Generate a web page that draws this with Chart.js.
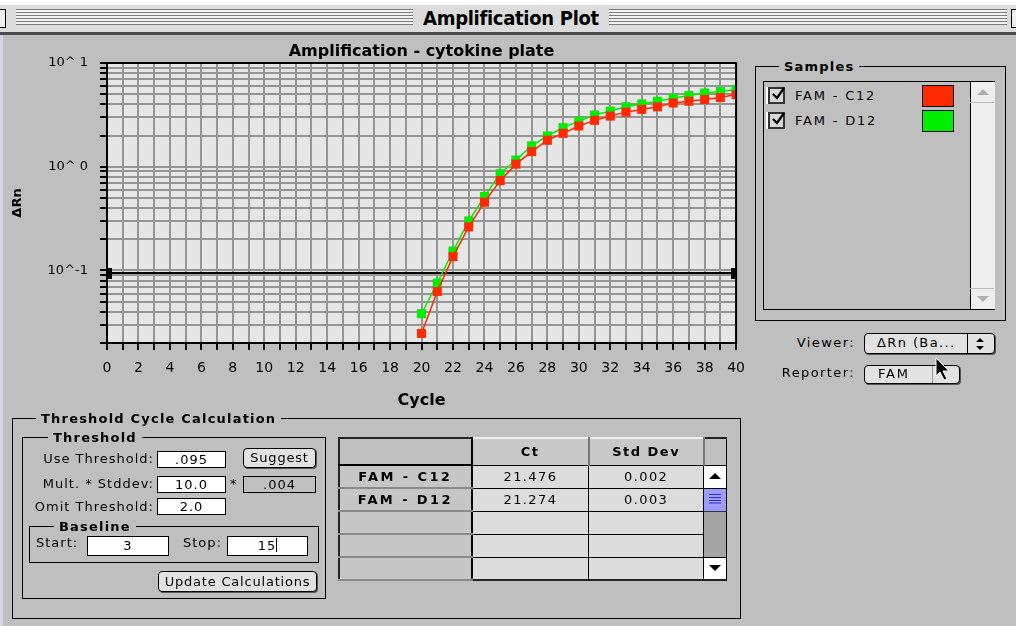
<!DOCTYPE html>
<html>
<head>
<meta charset="utf-8">
<script src="https://cdn.jsdelivr.net/npm/chart.js@4.4.1/dist/chart.umd.min.js"></script>
<style>
  body { margin: 0; width: 1016px; height: 626px; background: #bfbfbf; position: relative; overflow: hidden;
         font-family: "DejaVu Sans", sans-serif; font-size: 13px; color: #000; }
  .a { position: absolute; }
  .stripes { position: absolute; background: repeating-linear-gradient(to bottom, #7a7a7a 0 1px, #f2f2f2 1px 3px); }
  .grp { position: absolute; border: 1px solid #000; }
  .gt { position: absolute; top: -9px; background: #bfbfbf; padding: 0 5px; font-weight: bold; letter-spacing: 1.2px; line-height: 17px; font-size: 13px; }
  .lbl { position: absolute; height: 16px; line-height: 16px; font-size: 13px; letter-spacing: 1px; white-space: nowrap; }
  .inp { position: absolute; background: #fff; border: 1px solid #000; box-sizing: border-box; text-align: center; font-size: 13px; letter-spacing: 1px; }
  .btn { position: absolute; background: #e2e2e2; border: 1px solid #000; border-radius: 4px; box-sizing: border-box;
         box-shadow: 1px 1px 0 #555; text-align: center; font-size: 13px; letter-spacing: 0.8px; }
  table { border-collapse: collapse; }
  td { padding: 0; text-align: center; font-size: 13px; }
</style>
</head>
<body>
<!-- window title bar -->
<div class="a" style="left:0;top:0;width:1016px;height:5px;background:#fff"></div>
<div class="a" style="left:0;top:5px;width:1016px;height:27px;background:#dcdcdc"></div>
<div class="a" style="left:-6px;top:9px;width:10px;height:17px;border:1px solid #000;background:#eee"></div>
<div class="a" style="left:1011px;top:9px;width:10px;height:17px;border:1px solid #000;background:#eee"></div>
<div class="stripes" style="left:16px;top:9px;width:397px;height:16px"></div>
<div class="stripes" style="left:609px;top:9px;width:398px;height:16px"></div>
<div class="a" style="left:413px;top:6px;width:196px;text-align:center;font:bold 20px 'DejaVu Sans Condensed','DejaVu Sans',sans-serif;line-height:24px;letter-spacing:-0.3px">Amplification Plot</div>
<div class="a" style="left:0;top:32px;width:1016px;height:3px;background:#4a4a4a"></div>
<div class="a" style="left:0;top:35px;width:3px;height:591px;background:#d6d6e4"></div>

<!-- chart -->
<canvas id="amp-canvas" class="a" width="755" height="390" style="left:0;top:30px"></canvas>

<!-- samples panel -->
<div class="grp" style="left:755px;top:66px;width:249px;height:253px">
  <div class="gt" style="left:23px">Samples</div>
</div>
<div id="samples-list" class="a" style="left:763px;top:81px;width:230px;height:227px;border:1px solid #000;background:#bfbfbf"></div>
<div class="a" style="left:970px;top:82px;width:24px;height:227px;background:#eeeeee;border-left:1px solid #000"></div>
<div class="a" style="left:970px;top:102px;width:24px;height:1px;background:#bbb"></div>
<div class="a" style="left:970px;top:288px;width:24px;height:1px;background:#bbb"></div>
<svg class="a" style="left:975px;top:87px" width="16" height="10"><polygon points="2,8 8,2 14,8" fill="#b0b0b0"/></svg>
<svg class="a" style="left:975px;top:294px" width="16" height="10"><polygon points="2,2 8,8 14,2" fill="#b0b0b0"/></svg>

<div class="lbl" style="left:770px;top:335px;width:85px;text-align:right;letter-spacing:1.4px">Viewer:</div>
<div class="btn" style="left:864px;top:333px;width:131px;height:21px;text-align:left">
  <span class="a" style="left:12px;top:1px;letter-spacing:1.4px">ΔRn (Ba...</span>
  <div class="a" style="left:102px;top:0;width:1px;height:19px;background:#000"></div>
  <svg class="a" style="left:108px;top:3px" width="14" height="14"><polygon points="3,5 7,1 11,5" fill="#000"/><polygon points="3,9 7,13 11,9" fill="#000"/></svg>
</div>
<div class="lbl" style="left:750px;top:365px;width:105px;text-align:right;letter-spacing:1.4px">Reporter:</div>
<div class="btn" style="left:864px;top:365px;width:96px;height:19px;text-align:left">
  <span class="a" style="left:13px;top:0;letter-spacing:1.8px">FAM</span>
  <div class="a" style="left:67px;top:0;width:1px;height:17px;background:#999"></div>
</div>
<svg class="a" style="left:935px;top:357px" width="22" height="26">
  <polygon points="1,1 1,19 5,15 9,23 12,22 8,14 14,14" fill="#000" stroke="#fff" stroke-width="1"/>
</svg>

<!-- threshold cycle calculation -->
<div class="grp" style="left:12px;top:418px;width:727px;height:199px">
  <div class="gt" style="left:23px">Threshold Cycle Calculation</div>
</div>
<div class="grp" style="left:22px;top:437px;width:302px;height:160px">
  <div class="gt" style="left:25px">Threshold</div>
</div>
<div class="lbl" style="left:30px;top:451px;width:124px;text-align:right">Use Threshold:</div>
<div class="inp" style="left:157px;top:451px;width:69px;height:17px;line-height:15px">.095</div>
<div class="btn" style="left:243px;top:448px;width:73px;height:20px;line-height:18px">Suggest</div>
<div class="lbl" style="left:20px;top:476px;width:134px;text-align:right">Mult. * Stddev:</div>
<div class="inp" style="left:157px;top:476px;width:69px;height:17px;line-height:15px">10.0</div>
<div class="lbl" style="left:230px;top:476px">*</div>
<div class="inp" style="left:243px;top:476px;width:73px;height:17px;line-height:15px;background:#bfbfbf">.004</div>
<div class="lbl" style="left:20px;top:499px;width:134px;text-align:right">Omit Threshold:</div>
<div class="inp" style="left:157px;top:498px;width:69px;height:17px;line-height:15px">2.0</div>
<div class="grp" style="left:29px;top:526px;width:288px;height:35px">
  <div class="gt" style="left:24px">Baseline</div>
</div>
<div class="lbl" style="left:36px;top:535px">Start:</div>
<div class="inp" style="left:87px;top:536px;width:82px;height:20px;line-height:18px">3</div>
<div class="lbl" style="left:183px;top:535px">Stop:</div>
<div class="inp" style="left:227px;top:536px;width:81px;height:20px;line-height:18px">15<span style="display:inline-block;width:1px;height:14px;background:#000;vertical-align:-2px"></span></div>
<div class="btn" style="left:158px;top:571px;width:159px;height:21px;line-height:19px">Update Calculations</div>

<!-- results table -->
<div id="ct-table" class="a" style="left:338px;top:437px;width:389px;height:140px"></div>

<script>
// amplification data (delta Rn by cycle)
let cycles = [20, 21, 22, 23, 24, 25, 26, 27, 28, 29, 30, 31, 32, 33, 34, 35, 36, 37, 38, 39, 40];
let famC12 = [0.0247, 0.0627, 0.136, 0.263, 0.455, 0.735, 1.06, 1.40, 1.80, 2.10, 2.47, 2.80, 3.08, 3.36, 3.57, 3.78, 4.12, 4.28, 4.45, 4.65, 4.96];
let famD12 = [0.0383, 0.0754, 0.154, 0.300, 0.516, 0.857, 1.16, 1.59, 1.98, 2.38, 2.75, 3.15, 3.44, 3.78, 4.03, 4.28, 4.57, 4.86, 5.14, 5.30, 5.54];
let yTicks = [0.02, 0.03, 0.04, 0.05, 0.06, 0.07, 0.08, 0.09, 0.1, 0.2, 0.3, 0.4, 0.5, 0.6, 0.7, 0.8, 0.9, 1, 2, 3, 4, 5, 6, 7, 8, 9, 10];
let threshold = 0.095;

let sampleNames = ['FAM - C12', 'FAM - D12'];
let sampleColors = ['#ff2a00', '#00ee00'];
let ctValues = ['21.476', '21.274'];
let stdDevValues = ['0.002', '0.003'];

/*plot background, threshold line, drag handles and plot frame*/
const plotExtras = {
  id: 'plotExtras',
  beforeDraw(chart) {
    const ctx = chart.ctx;
    const a = chart.chartArea;
    ctx.save();
    ctx.fillStyle = '#e6e6e6';
    ctx.fillRect(a.left, a.top, a.right - a.left, a.bottom - a.top);
    ctx.restore();
  },
  beforeDatasetsDraw(chart) {
    const ctx = chart.ctx;
    const a = chart.chartArea;
    const ty = Math.round(chart.scales.y.getPixelForValue(threshold));
    ctx.save();
    ctx.fillStyle = '#000';
    ctx.fillRect(a.left, ty - 1, a.right - a.left, 2);
    ctx.fillRect(a.left, ty - 5, 5, 11);
    ctx.fillRect(a.right - 5, ty - 5, 5, 11);
    ctx.restore();
  },
  afterDatasetsDraw(chart) {
    const ctx = chart.ctx;
    const a = chart.chartArea;
    ctx.save();
    ctx.fillStyle = '#000';
    ctx.fillRect(a.left - 1, a.top - 1, a.right - a.left + 2, 2);
    ctx.fillRect(a.right - 1, a.top - 1, 2, a.bottom - a.top + 2);
    ctx.restore();
  }
};

let c12Points = cycles.map((c, i) => ({ x: c, y: famC12[i] }));
let d12Points = cycles.map((c, i) => ({ x: c, y: famD12[i] }));

let ampChart = new Chart(document.getElementById('amp-canvas'), {
  type: 'line',
  data: {
    datasets: [{
      label: sampleNames[0],
      data: c12Points,
      borderColor: sampleColors[0],
      backgroundColor: sampleColors[0],
      borderWidth: 1.5,
      pointStyle: 'rect',
      pointRadius: 6.4,
      pointBorderWidth: 0,
      tension: 0
    }, {
      label: sampleNames[1],
      data: d12Points,
      borderColor: sampleColors[1],
      backgroundColor: sampleColors[1],
      borderWidth: 1.5,
      pointStyle: 'rect',
      pointRadius: 6.4,
      pointBorderWidth: 0,
      tension: 0
    }]
  },
  options: {
    responsive: false,
    animation: false,
    devicePixelRatio: 1,
    layout: { padding: { left: 0, right: 0, top: 0, bottom: 0 } },
    plugins: {
      legend: { display: false },
      tooltip: { enabled: false },
      title: {
        display: true,
        text: 'Amplification - cytokine plate',
        fullSize: false,
        color: '#000',
        font: { family: 'DejaVu Sans', size: 16, weight: 'bold' },
        padding: { top: 12.4, bottom: 1.4 }
      }
    },
    scales: {
      x: {
        type: 'linear',
        min: 0,
        max: 40,
        afterFit: function(scale) { scale.height = 77; },
        ticks: {
          stepSize: 1,
          autoSkip: false,
          maxRotation: 0,
          padding: 10,
          color: '#000',
          font: { family: 'DejaVu Sans', size: 14 },
          callback: function(v) { return v % 2 === 0 ? String(v) : ''; }
        },
        grid: { color: '#959595', lineWidth: 2, tickColor: '#000', tickLength: 7, tickWidth: 2 },
        border: { color: '#000', width: 2 },
        title: {
          display: true,
          text: 'Cycle',
          color: '#000',
          font: { family: 'DejaVu Sans', size: 16, weight: 'bold' },
          padding: { top: 0, bottom: 10 }
        }
      },
      y: {
        type: 'logarithmic',
        min: 0.02,
        max: 10,
        afterFit: function(scale) { scale.width = 107; },
        afterBuildTicks: function(scale) { scale.ticks = yTicks.map(v => ({ value: v })); },
        ticks: {
          autoSkip: false,
          padding: 12,
          color: '#000',
          font: { family: 'DejaVu Sans', size: 13 },
          callback: function(v) {
            let e = Math.log10(v);
            if (Math.abs(e - Math.round(e)) > 1e-6) return '';
            e = Math.round(e);
            return e < 0 ? '10^' + e : '10^ ' + e;
          }
        },
        grid: { color: '#959595', lineWidth: 2, tickColor: '#000', tickLength: 7, tickWidth: 2 },
        border: { color: '#000', width: 2 },
        title: {
          display: true,
          text: 'ΔRn',
          color: '#000',
          font: { family: 'DejaVu Sans', size: 13, weight: 'bold' },
          padding: { top: 10.2, bottom: 0 }
        }
      }
    }
  },
  plugins: [plotExtras]
});

/*samples list*/
let list = document.getElementById('samples-list');
sampleNames.forEach(function(name, i) {
  let top = 5 + i * 25;
  list.insertAdjacentHTML('beforeend',
    '<div class="a" style="left:4px;top:' + top + 'px;width:17px;height:17px;box-sizing:border-box;border:2px solid #333;background:#d8d8d8;box-shadow:-2px 0 0 #fff"></div>' +
    '<svg class="a" style="left:6px;top:' + (top - 1) + 'px" width="16" height="16"><polyline points="3,8 7,12 14,2" fill="none" stroke="#000" stroke-width="2.2"/></svg>' +
    '<div class="lbl" style="left:31px;top:' + (top + 1) + 'px;letter-spacing:1.8px">' + name + '</div>' +
    '<div class="a" style="left:158px;top:' + (top - 2) + 'px;width:32px;height:22px;box-sizing:border-box;border:1px solid #000;background:' + sampleColors[i] + '"></div>');
});

/*ct table*/
let rowsHtml = '';
for (let r = 0; r < 5; r++) {
  let bev = 'border-top:1px solid #eee;border-bottom:2px solid #8a8a8a;border-right:1px solid #000;';
  let nameCell = '<td style="width:131px;height:21px;background:#c6c6c6;' + bev + 'font-weight:bold;letter-spacing:2.4px">' + (sampleNames[r] || '') + '</td>';
  let ctCell = '<td style="width:116px;background:#dcdcdc;border:1px solid #000;border-left:2px solid #000;letter-spacing:1.4px">' + (ctValues[r] || '') + '</td>';
  let sdCell = '<td style="width:114px;background:#dcdcdc;border:1px solid #000;letter-spacing:1.4px">' + (stdDevValues[r] || '') + '</td>';
  let scroll;
  if (r === 0) scroll = '<td style="width:22px;background:#fff;border:1px solid #000"><svg width="14" height="10"><polygon points="1,8 7,2 13,8" fill="#000"/></svg></td>';
  else if (r === 1) scroll = '<td style="width:22px;background:#9c9cff;border:1px solid #000;border-bottom:1px solid #333"><svg width="14" height="12"><g stroke="#3333aa" stroke-width="1"><line x1="1" y1="2.5" x2="13" y2="2.5"/><line x1="1" y1="5.5" x2="13" y2="5.5"/><line x1="1" y1="8.5" x2="13" y2="8.5"/><line x1="1" y1="11" x2="13" y2="11"/></g></svg></td>';
  else if (r === 4) scroll = '<td style="width:22px;background:#fff;border:1px solid #000"><svg width="14" height="10"><polygon points="1,2 7,8 13,2" fill="#000"/></svg></td>';
  else scroll = '<td style="width:22px;background:#a4a4a4;border-left:1px solid #000;border-right:1px solid #000"></td>';
  rowsHtml += '<tr style="height:22px">' + nameCell + ctCell + sdCell + scroll + '</tr>';
}
document.getElementById('ct-table').innerHTML =
  '<table style="width:389px;border:2px solid #222;border-right:1px solid #000">' +
  '<tr style="height:27px"><td style="background:#c0c0c0;border-right:2px solid #000;border-bottom:2px solid #000"></td>' +
  '<td style="background:#c8c8c8;border-top:2px solid #eee;border-right:2px solid #777;border-bottom:1px solid #000;font-weight:bold;letter-spacing:1.5px">Ct</td>' +
  '<td style="background:#c8c8c8;border-top:2px solid #eee;border-right:2px solid #777;border-bottom:1px solid #000;font-weight:bold;letter-spacing:1.5px">Std Dev</td>' +
  '<td style="background:#c0c0c0;border-bottom:1px solid #000"></td></tr>' + rowsHtml + '</table>';
</script>
</body>
</html>
